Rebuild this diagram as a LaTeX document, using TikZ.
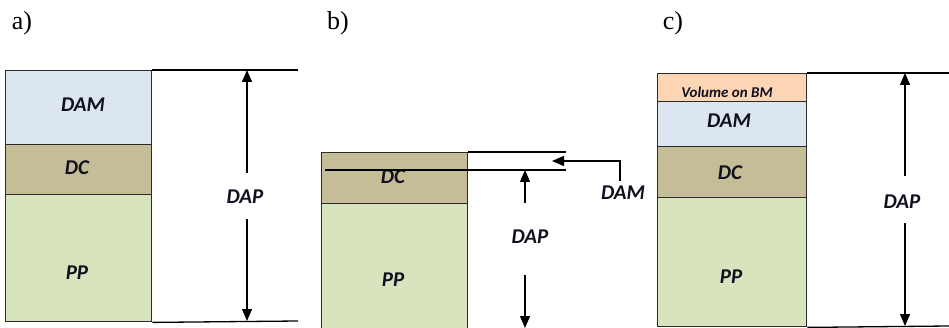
\documentclass[tikz,border=0pt]{standalone}
\usepackage{fontspec}
\setmainfont{Liberation Serif}
\newfontfamily\lblfont{Carlito}
\usetikzlibrary{arrows.meta}
\definecolor{damfill}{HTML}{DCE6F1}
\definecolor{dcfill}{HTML}{C4BD97}
\definecolor{ppfill}{HTML}{D7E4BD}
\definecolor{volfill}{HTML}{FCD5B5}
\definecolor{edge}{HTML}{2B2B2B}
\definecolor{ink}{HTML}{101020}
\tikzset{
  layer/.style={draw=edge, line width=1.4pt, anchor=north west, inner sep=0pt},
  tag/.style={font=\lblfont\bfseries\itshape\fontsize{21}{21}\selectfont, text=ink, inner sep=0pt},
  smalltag/.style={font=\lblfont\bfseries\itshape\fontsize{15}{15}\selectfont, text=ink, inner sep=0pt},
  panel/.style={font=\fontsize{26}{26}\selectfont, inner sep=0pt},
  rule/.style={draw=black, line width=1.3pt},
  dim/.style={draw=black, line width=1.3pt, -{Triangle[width=10pt,length=12pt]}},
}
\begin{document}
\begin{tikzpicture}[x=1pt,y=-1pt]
\useasboundingbox (0,0) rectangle (949,328);
\clip (0,0) rectangle (949,328);

% panel letters
\node[panel] (la) at (22,23) {a)};
\node[panel] (lb) at (338,23) {b)};
\node[panel] (lc) at (673,23) {c)};

% ---------- a) ----------
\node[layer, fill=damfill, minimum width=146pt, minimum height=74pt] (aDAM) at (5,70) {};
\node[layer, fill=dcfill, minimum width=146pt, minimum height=50pt] (aDC) at (5,144) {};
\node[layer, fill=ppfill, minimum width=146pt, minimum height=127pt] (aPP) at (5,194) {};
\node[tag] (aDAMt) at (83,105) {DAM};
\node[tag] (aDCt) at (77,168) {DC};
\node[tag] (aPPt) at (77,273) {PP};
\coordinate (aTopEnd) at (298,70);
\coordinate (aBotEnd) at (298,321);
\draw[rule] (aDAM.north east) -- (aTopEnd);
\draw[rule] (aPP.south east) -- (aBotEnd);
\node[tag] (aDAP) at (245,197) {DAP};
\coordinate (aUpFrom) at (247,173);
\coordinate (aUpTo) at (247,70);
\coordinate (aDnFrom) at (247,219);
\coordinate (aDnTo) at (247,321);
\draw[dim] (aUpFrom) -- (aUpTo);
\draw[dim] (aDnFrom) -- (aDnTo);

% ---------- b) ----------
\node[layer, fill=dcfill, minimum width=146pt, minimum height=51pt] (bDC) at (321,152) {};
\node[layer, fill=ppfill, minimum width=146pt, minimum height=140pt] (bPP) at (321,203) {};
\node[tag] (bDCt) at (393,177) {DC};
\node[tag] (bPPt) at (393,280) {PP};
\coordinate (bTopEnd) at (566,152);
\coordinate (bMidStart) at (325,170);
\coordinate (bMidEnd) at (566,170);
\draw[rule] (bDC.north east) -- (bTopEnd);
\draw[rule] (bMidStart) -- (bMidEnd);
\node[tag] (bDAM) at (623,193) {DAM};
\coordinate (bLeadFoot) at (620,181);
\coordinate (bLeadTip) at (552,161);
\draw[dim] (bLeadFoot) |- (bLeadTip);
\node[tag] (bDAP) at (530,237) {DAP};
\coordinate (bUpFrom) at (525,203);
\coordinate (bUpTo) at (525,170);
\coordinate (bDnFrom) at (525,275);
\coordinate (bDnTo) at (525,328);
\draw[dim] (bUpFrom) -- (bUpTo);
\draw[dim] (bDnFrom) -- (bDnTo);

% ---------- c) ----------
\node[layer, fill=volfill, minimum width=149pt, minimum height=28pt] (cVol) at (657,73) {};
\node[layer, fill=damfill, minimum width=149pt, minimum height=45pt] (cDAM) at (657,101) {};
\node[layer, fill=dcfill, minimum width=149pt, minimum height=51pt] (cDC) at (657,146) {};
\node[layer, fill=ppfill, minimum width=149pt, minimum height=129pt] (cPP) at (657,197) {};
\node[smalltag] (cVolt) at (727,92) {Volume on BM};
\node[tag] (cDAMt) at (729,121) {DAM};
\node[tag] (cDCt) at (730,173) {DC};
\node[tag] (cPPt) at (731,277) {PP};
\coordinate (cTopEnd) at (949,73);
\coordinate (cBotEnd) at (949,326);
\draw[rule] (cVol.north east) -- (cTopEnd);
\draw[rule] (cPP.south east) -- (cBotEnd);
\node[tag] (cDAP) at (902,202) {DAP};
\coordinate (cUpFrom) at (905,176);
\coordinate (cUpTo) at (905,73);
\coordinate (cDnFrom) at (905,223);
\coordinate (cDnTo) at (905,326);
\draw[dim] (cUpFrom) -- (cUpTo);
\draw[dim] (cDnFrom) -- (cDnTo);
\end{tikzpicture}
\end{document}
